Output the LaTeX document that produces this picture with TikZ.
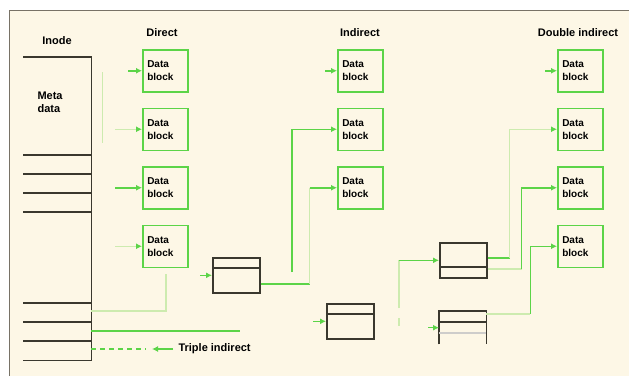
\documentclass[tikz,border=0pt]{standalone}
\usepackage{fontspec}
\setmainfont{Liberation Sans}
\usetikzlibrary{arrows.meta, positioning, calc}
\definecolor{paper}{RGB}{253,247,230}
\definecolor{frameline}{RGB}{120,114,102}
\definecolor{linkgreen}{RGB}{92,212,72}
\definecolor{palegreen}{RGB}{205,235,175}
\definecolor{boxline}{RGB}{58,56,46}

\begin{document}
\begin{tikzpicture}[
  x=1pt, y=-1pt,
  node distance=15pt,
  datablk/.style={draw=linkgreen, line width=1.5pt, minimum width=45pt, minimum height=42pt, text width=36pt, inner sep=2pt, align=left, font=\fontsize{10}{13}\selectfont\bfseries},
  idxblk/.style={draw=boxline, line width=1.6pt, minimum width=47pt, minimum height=35pt, inner sep=0pt},
  idxrule/.style={boxline, line width=1.6pt},
  lbl/.style={font=\fontsize{11}{13}\selectfont\bfseries},
  link/.style={linkgreen, line width=1.5pt},
  faint/.style={palegreen, line width=1.5pt},
  ptr/.style={-{Latex[length=6pt, width=6pt, color=linkgreen]}}
]
\useasboundingbox (0,0) rectangle (629,376);
\fill[white] (0,0) rectangle (629,376);
\fill[paper] (9,10) rectangle (629,376);
\draw[frameline, line width=1pt] (9,376) -- (9,10) -- (629,10);

% Inode
\node[lbl] (inodelbl) at (57,41) {Inode};
\node[minimum width=68pt, minimum height=303pt, inner sep=0pt, anchor=north west] (inode) at (23,57) {};
\draw[idxrule] (inode.north west) -- (inode.north east) -- (inode.south east) -- (inode.south west);
\foreach \yy in {155,174,193,212,303,322,341} \draw[idxrule] (23,\yy) -- (91,\yy);
\node[lbl, align=left, anchor=north west] (meta) at (34,88) {Meta\\data};
\draw[faint, line width=1pt] (102,72) -- (102,143);

% Direct blocks
\node[lbl] (dirlbl) at (162,33) {Direct};
\node[datablk, anchor=north west] (d1) at (142,49) {Data\\block};
\node[datablk, below=of d1] (d2) {Data\\block};
\node[datablk, below=of d2] (d3) {Data\\block};
\node[datablk, below=of d3] (d4) {Data\\block};

\draw[link, ptr] ([xshift=-14pt]d1.west) -- (d1.west);
\foreach \b/\s in {d2/faint, d3/link, d4/faint}
  \draw[\s, ptr] ([xshift=-27pt]\b.west) -- (\b.west);

% Indirect blocks
\node[lbl] (indlbl) at (360,33) {Indirect};
\node[datablk, anchor=north west] (i1) at (337,49) {Data\\block};
\node[datablk, below=of i1] (i2) {Data\\block};
\node[datablk, below=of i2] (i3) {Data\\block};

% Double indirect blocks
\node[lbl] (dbllbl) at (578,33) {Double indirect};
\node[datablk, anchor=north west] (dd1) at (557,49) {Data\\block};
\node[datablk, below=of dd1] (dd2) {Data\\block};
\node[datablk, below=of dd2] (dd3) {Data\\block};
\node[datablk, below=of dd3] (dd4) {Data\\block};

% Index blocks
\node[idxblk, anchor=north west] (s1) at (212,257) {};
\draw[idxrule] ([yshift=-11pt]s1.north west) -- ([yshift=-11pt]s1.north east);
\node[idxblk, anchor=north west] (m1) at (326,303) {};
\draw[idxrule] ([yshift=-11pt]m1.north west) -- ([yshift=-11pt]m1.north east);
\node[idxblk, anchor=north west] (m2) at (439,242) {};
\draw[idxrule] ([yshift=-25pt]m2.north west) -- ([yshift=-25pt]m2.north east);
\node[minimum width=47pt, minimum height=33pt, inner sep=0pt, anchor=north west] (t1) at (439,311) {};
\draw[idxrule] (t1.south west) |- (t1.north east) -- (t1.south east);
\draw[idxrule] ([yshift=-11pt]t1.north west) -- ([yshift=-11pt]t1.north east);
\draw[boxline!25, line width=1.6pt] ([yshift=-22pt]t1.north west) -- ([yshift=-22pt]t1.north east);

% Pointers from the inode
\coordinate (ptrS) at (91,311);
\coordinate (ptrD) at (91,331);
\coordinate (ptrT) at (91,349);
\coordinate (endS) at (166,274);
\coordinate (endD) at (240,331);
\coordinate (dashend) at (152,349);
\draw[faint] (ptrS) -| (endS);
\draw[link] (ptrD) -- (endD);
\node[lbl, anchor=west] (triple) at (175,349) {Triple indirect};
\draw[link, dash pattern=on 5pt off 4pt] (ptrT) -- ([xshift=-6pt]dashend);
\draw[link, ptr] ([xshift=-2pt]triple.west) -- (dashend);

% Single indirect links
\draw[link, ptr] ([xshift=-12pt]s1.west) -- (s1.west);
\draw[link] ([yshift=-27pt]s1.north east) -- ++(49,0) coordinate (k1);
\draw[faint] (k1) -- (k1 |- i3.west);
\draw[link, ptr] (k1 |- i3.west) -- (i3.west);
\coordinate (k2) at (292,272);
\draw[link, ptr] (k2) |- (i2.west);
\draw[link, ptr] ([xshift=-12pt]i1.west) -- (i1.west);

% Double indirect links
\draw[link, ptr] ([xshift=-13pt]m1.west) -- (m1.west);
\coordinate (k3) at (399,308);
\draw[faint] (k3) -- (k3 |- m2.west);
\draw[link, ptr] (k3 |- m2.west) -- (m2.west);
\draw[faint] (399,318) -- (399,326);
\draw[link] ([yshift=-16pt]m2.north east) -- ++(22,0) coordinate (k4);
\draw[faint, ptr] (k4) |- (dd2.west);
\draw[faint] ([yshift=-27pt]m2.north east) -- ++(34,0) coordinate (k5);
\draw[link, ptr] (k5) |- (dd3.west);
\draw[link, ptr] ([xshift=-11pt]t1.west) -- (t1.west);
\draw[faint] ([yshift=-3pt]t1.north east) -- ++(44,0) coordinate (k6);
\draw[link, ptr] (k6) |- (dd4.west);
\draw[link, ptr] ([xshift=-12pt]dd1.west) -- (dd1.west);

\end{tikzpicture}
\end{document}
